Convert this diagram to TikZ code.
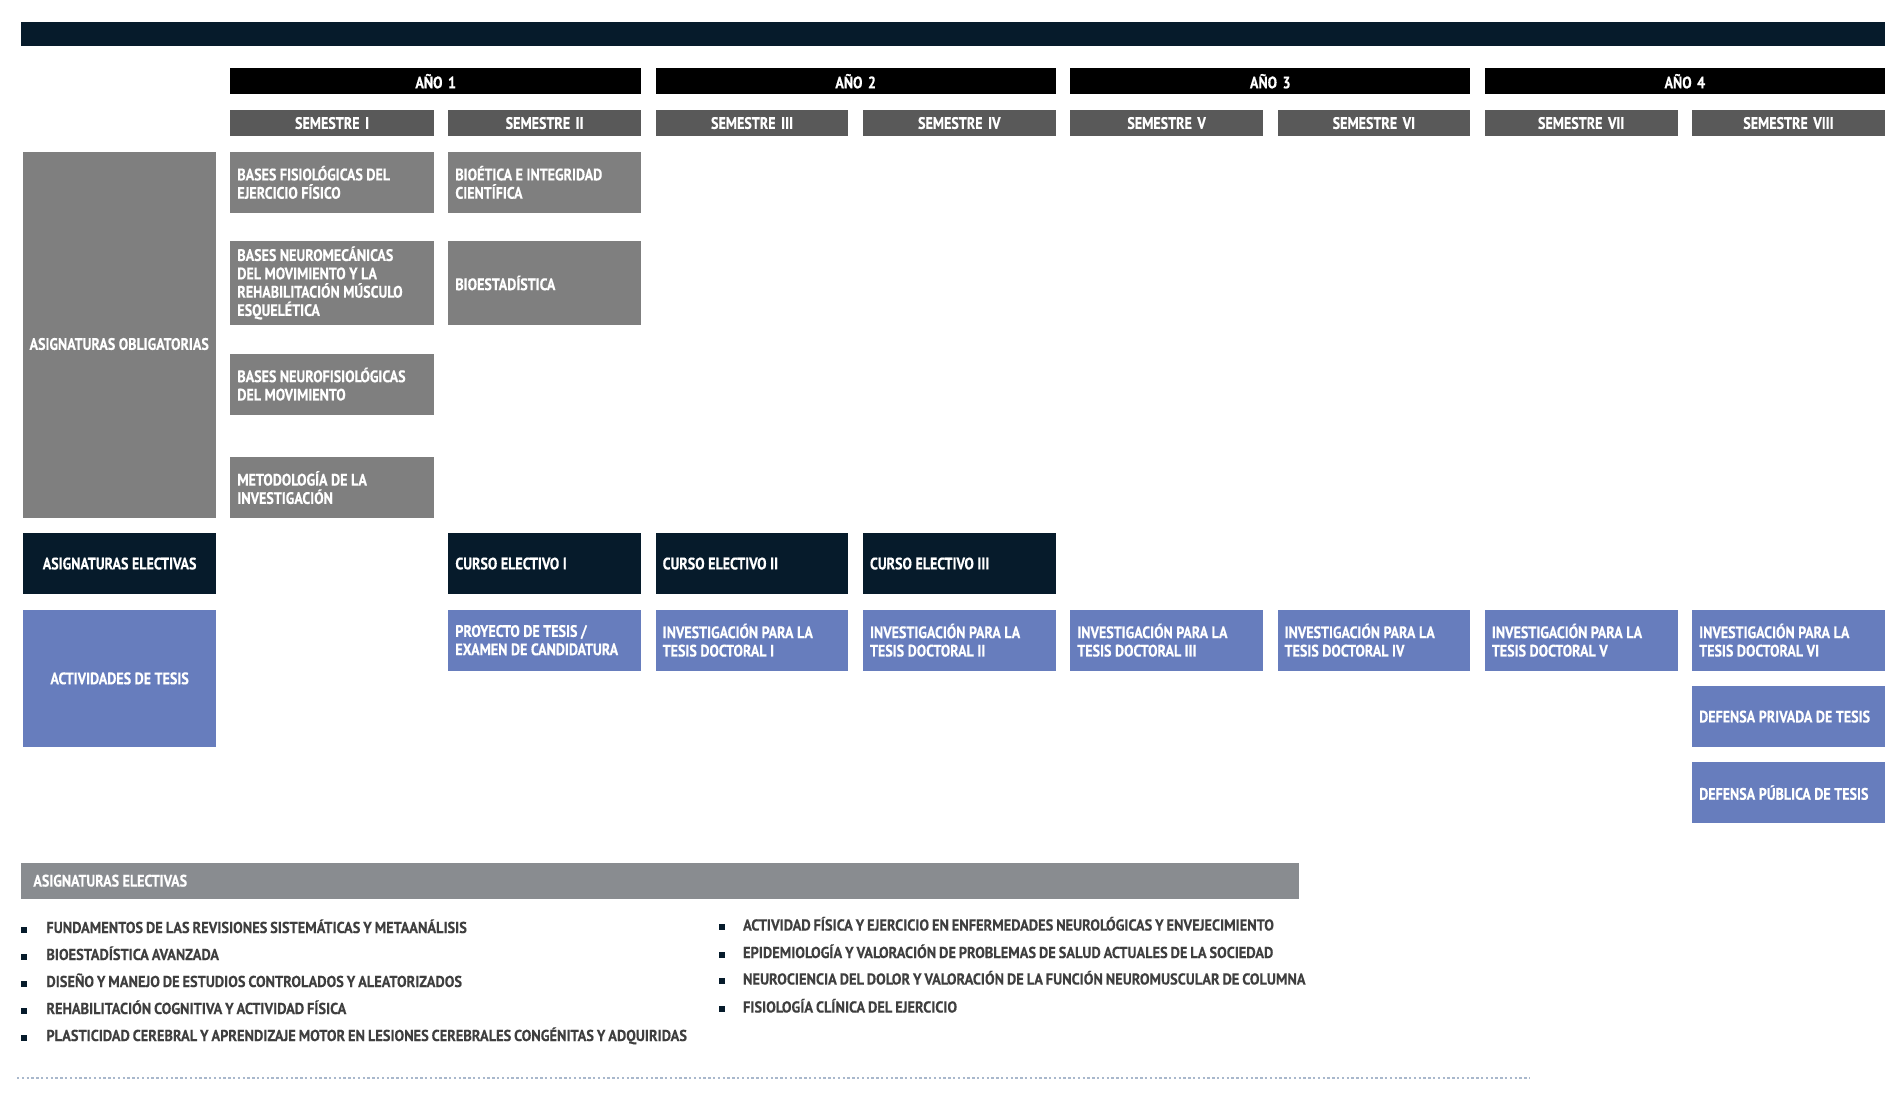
\documentclass[tikz,border=0pt]{standalone}
\usepackage{fontspec}
\newfontfamily\condA[FakeStretch=0.845, WordSpace={1,0,0}, FakeBold=0.35]{PT Sans}
\newfontfamily\condB[FakeStretch=0.91, WordSpace={0.8,0,0}, FakeBold=0.2]{PT Sans}
\definecolor{navy}{HTML}{061B2B}
\definecolor{semgray}{HTML}{595959}
\definecolor{boxgray}{HTML}{7F7F7F}
\definecolor{tesisblue}{HTML}{677DBD}
\definecolor{bandgray}{HTML}{898C90}
\definecolor{listtext}{HTML}{3F3F3F}
\definecolor{dotcol}{HTML}{A9B8CC}
\newcommand\cellbox[7]{%
  \pgfmathsetmacro\cw{(#5-#3)*0.5}%
  \pgfmathsetmacro\ch{(#6-#4)*0.5}%
  \pgfmathsetmacro\tw{(#5-#3)*0.5-7}%
  \node[#2, anchor=north west, minimum width=\cw pt, minimum height=\ch pt, text width=\tw pt] (#1) at (#3,#4) {#7};}
\tikzset{
  cellbase/.style={inner xsep=3.5pt, inner ysep=0pt, text=white,
    font=\condA\bfseries\fontsize{8.3}{9.17}\selectfont},
  yearbox/.style={cellbase, fill=black, align=center},
  sembox/.style={cellbase, fill=semgray, align=center},
  oblig/.style={cellbase, fill=boxgray, align=flush left},
  obliglabel/.style={cellbase, fill=boxgray},
  elect/.style={cellbase, fill=navy, align=flush left},
  electlabel/.style={cellbase, fill=navy},
  tesis/.style={cellbase, fill=tesisblue, align=flush left},
  tesislabel/.style={cellbase, fill=tesisblue},
  topbar/.style={cellbase, fill=navy},
  labeltext/.style={inner sep=0pt, text=white,
    font=\condA\bfseries\fontsize{8.3}{9.17}\selectfont},
  band/.style={cellbase, fill=bandgray, align=flush left},
  listitem/.style={anchor=base west, inner sep=0pt, text=listtext,
    font=\condB\bfseries\fontsize{7.9}{9}\selectfont},
  bullet/.style={fill=navy},
}
\begin{document}
\begin{tikzpicture}[x=0.5pt,y=-0.5pt]
\useasboundingbox (0,0) rectangle (1900,1094);
% top bar
\cellbox{top}{topbar}{21}{22}{1885}{46}{}
% years
\cellbox{y1}{yearbox}{230}{67.7}{640.6}{94}{AÑO 1}
\cellbox{y2}{yearbox}{655.3}{67.7}{1055.2}{94}{AÑO 2}
\cellbox{y3}{yearbox}{1069.9}{67.7}{1469.8}{94}{AÑO 3}
\cellbox{y4}{yearbox}{1484.5}{67.7}{1884.4}{94}{AÑO 4}
% semesters
\cellbox{s1}{sembox}{230}{109.3}{433.3}{136}{SEMESTRE I}
\cellbox{s2}{sembox}{448}{109.3}{640.6}{136}{SEMESTRE II}
\cellbox{s3}{sembox}{655.3}{109.3}{848}{136}{SEMESTRE III}
\cellbox{s4}{sembox}{862.6}{109.3}{1055.2}{136}{SEMESTRE IV}
\cellbox{s5}{sembox}{1069.9}{109.3}{1262.5}{136}{SEMESTRE V}
\cellbox{s6}{sembox}{1277.2}{109.3}{1469.8}{136}{SEMESTRE VI}
\cellbox{s7}{sembox}{1484.5}{109.3}{1677.1}{136}{SEMESTRE VII}
\cellbox{s8}{sembox}{1691.8}{109.3}{1884.4}{136}{SEMESTRE VIII}
% left labels
\cellbox{lob}{obliglabel}{22.7}{151.5}{215.7}{517.7}{}
\node[labeltext] (lobt) at (119.2,344) {ASIGNATURAS OBLIGATORIAS};
\cellbox{lel}{electlabel}{22.7}{532.3}{215.7}{594}{}
\node[labeltext] (lelt) at (lel.center) {ASIGNATURAS ELECTIVAS};
\cellbox{lte}{tesislabel}{22.7}{609.3}{215.7}{746.7}{}
\node[labeltext] (ltet) at (lte.center) {ACTIVIDADES DE TESIS};
% obligatory courses
\cellbox{o11}{oblig}{230}{151.5}{433.3}{212.5}{BASES FISIOLÓGICAS DEL\\EJERCICIO FÍSICO}
\cellbox{o12}{oblig}{230}{240.5}{433.3}{324.7}{BASES NEUROMECÁNICAS\\DEL MOVIMIENTO Y LA\\REHABILITACIÓN MÚSCULO\\ESQUELÉTICA}
\cellbox{o13}{oblig}{230}{353.3}{433.3}{414.3}{BASES NEUROFISIOLÓGICAS\\DEL MOVIMIENTO}
\cellbox{o14}{oblig}{230}{456.7}{433.3}{517.7}{METODOLOGÍA DE LA\\INVESTIGACIÓN}
\cellbox{o21}{oblig}{448}{151.5}{640.6}{212.5}{BIOÉTICA E INTEGRIDAD\\CIENTÍFICA}
\cellbox{o22}{oblig}{448}{240.5}{640.6}{324.7}{BIOESTADÍSTICA}
% electives
\cellbox{e2}{elect}{448}{532.3}{640.6}{594}{CURSO ELECTIVO I}
\cellbox{e3}{elect}{655.3}{532.3}{848}{594}{CURSO ELECTIVO II}
\cellbox{e4}{elect}{862.6}{532.3}{1055.2}{594}{CURSO ELECTIVO III}
% thesis
\cellbox{t2}{tesis}{448}{609.3}{640.6}{670.3}{PROYECTO DE TESIS /\\EXAMEN DE CANDIDATURA}
\cellbox{t3}{tesis}{655.3}{609.3}{848}{670.3}{INVESTIGACIÓN PARA LA\\TESIS DOCTORAL I}
\cellbox{t4}{tesis}{862.6}{609.3}{1055.2}{670.3}{INVESTIGACIÓN PARA LA\\TESIS DOCTORAL II}
\cellbox{t5}{tesis}{1069.9}{609.3}{1262.5}{670.3}{INVESTIGACIÓN PARA LA\\TESIS DOCTORAL III}
\cellbox{t6}{tesis}{1277.2}{609.3}{1469.8}{670.3}{INVESTIGACIÓN PARA LA\\TESIS DOCTORAL IV}
\cellbox{t7}{tesis}{1484.5}{609.3}{1677.1}{670.3}{INVESTIGACIÓN PARA LA\\TESIS DOCTORAL V}
\cellbox{t8}{tesis}{1691.8}{609.3}{1884.4}{670.3}{INVESTIGACIÓN PARA LA\\TESIS DOCTORAL VI}
\cellbox{dpr}{tesis}{1691.8}{685.7}{1884.4}{746.7}{DEFENSA PRIVADA DE TESIS}
\cellbox{dpu}{tesis}{1691.8}{761.7}{1884.4}{822.7}{DEFENSA PÚBLICA DE TESIS}
% electives list
\node[band, anchor=north west, minimum width=638.75pt, minimum height=18pt, text width=626.75pt, inner xsep=6pt] (band) at (21,862.3) {ASIGNATURAS ELECTIVAS};
\foreach \t/\b [count=\i] in {%
  {FUNDAMENTOS DE LAS REVISIONES SISTEMÁTICAS Y METAANÁLISIS}/933,
  {BIOESTADÍSTICA AVANZADA}/960,
  {DISEÑO Y MANEJO DE ESTUDIOS CONTROLADOS Y ALEATORIZADOS}/987,
  {REHABILITACIÓN COGNITIVA Y ACTIVIDAD FÍSICA}/1014,
  {PLASTICIDAD CEREBRAL Y APRENDIZAJE MOTOR EN LESIONES CEREBRALES CONGÉNITAS Y ADQUIRIDAS}/1041}{
  \fill[bullet] (21,\b-0.5) rectangle (27,\b-6.5);
  \node[listitem] (la\i) at (46,\b) {\t};
}
\foreach \t/\b [count=\i] in {%
  {ACTIVIDAD FÍSICA Y EJERCICIO EN ENFERMEDADES NEUROLÓGICAS Y ENVEJECIMIENTO}/930.5,
  {EPIDEMIOLOGÍA Y VALORACIÓN DE PROBLEMAS DE SALUD ACTUALES DE LA SOCIEDAD}/958,
  {NEUROCIENCIA DEL DOLOR Y VALORACIÓN DE LA FUNCIÓN NEUROMUSCULAR DE COLUMNA}/984.5,
  {FISIOLOGÍA CLÍNICA DEL EJERCICIO}/1012.5}{
  \fill[bullet] (719,\b-0.5) rectangle (725,\b-6.5);
  \node[listitem] (lb\i) at (742.7,\b) {\t};
}
\draw[dotcol, line width=1.1pt, dash pattern=on 1.2pt off 1.2pt] (17,1078) -- (1530,1078);
\end{tikzpicture}
\end{document}
